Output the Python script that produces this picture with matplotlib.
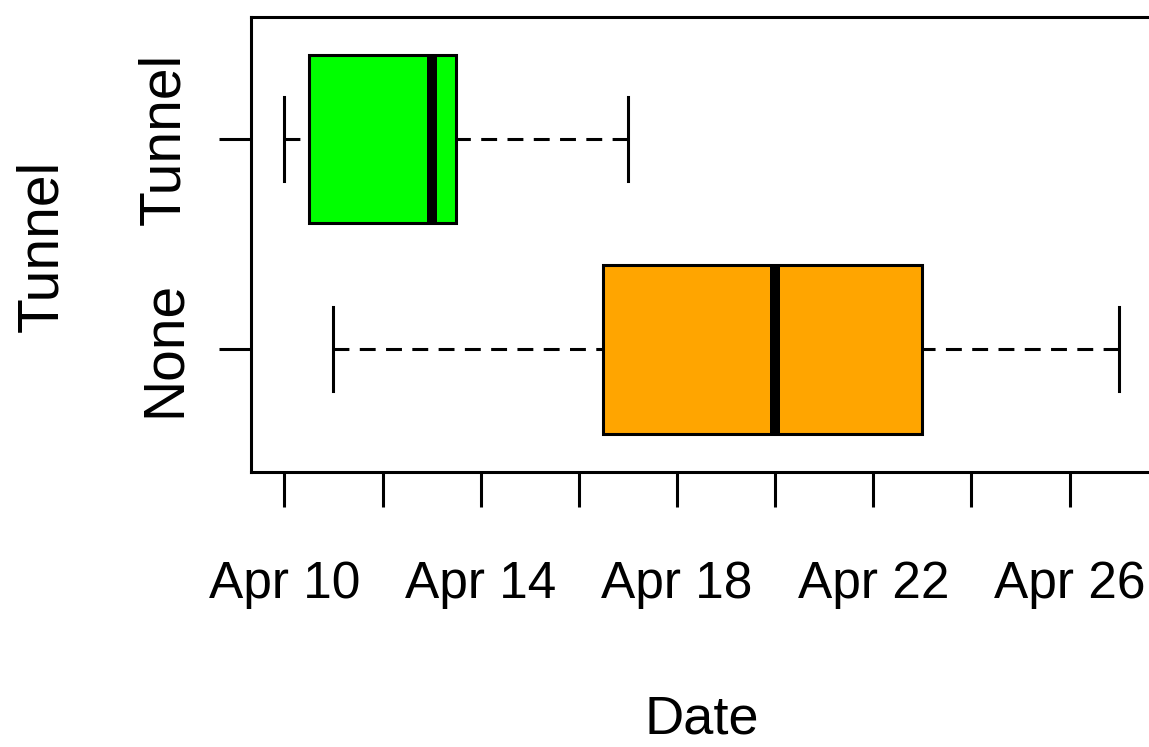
import numpy as np
import matplotlib
matplotlib.use('Agg')
import matplotlib.pyplot as plt
import matplotlib.dates as mdates

plt.rcParams['font.family'] = ['Liberation Sans', 'DejaVu Sans']

# box summaries (bottom group first)
groups = ['None', 'Tunnel']
colors = ['#FFA500', '#00FF00']
whislo = ['2021-04-11', '2021-04-10']
q1 = ['2021-04-16 12:00', '2021-04-10 12:00']
med = ['2021-04-20', '2021-04-13']
q3 = ['2021-04-23', '2021-04-13 12:00']
whishi = ['2021-04-27', '2021-04-17']

tick_dates = ['2021-04-10', '2021-04-12', '2021-04-14', '2021-04-16', '2021-04-18',
              '2021-04-20', '2021-04-22', '2021-04-24', '2021-04-26']
tick_labels = ['Apr 10', '', 'Apr 14', '', 'Apr 18', '', 'Apr 22', '', 'Apr 26']

d = mdates.datestr2num
stats = []
for i, g in enumerate(groups):
    stats.append(dict(label=g, whislo=d(whislo[i]), q1=d(q1[i]), med=d(med[i]),
                      q3=d(q3[i]), whishi=d(whishi[i]), fliers=[]))

W, H = 1149, 747
fig = plt.figure(figsize=(W / 100, H / 100), dpi=100)
ax = fig.add_axes([251 / W, 1 - 471.5 / H, 901 / W, 454.8 / H])

lw = 2.2
bp = ax.bxp(stats, positions=[1, 2], widths=0.8, capwidths=0.4,
            orientation='horizontal', patch_artist=True,
            boxprops=dict(linewidth=lw, edgecolor='black'),
            medianprops=dict(color='black', linewidth=7.2, solid_capstyle='butt'),
            whiskerprops=dict(color='black', linewidth=lw, linestyle=(0, (5.2, 3.4))),
            capprops=dict(color='black', linewidth=lw))
for box, c in zip(bp['boxes'], colors):
    box.set_facecolor(c)
# R draws whiskers starting from the staple
for w in bp['whiskers']:
    w.set_xdata(np.asarray(w.get_xdata())[::-1])
    w.set_ydata(np.asarray(w.get_ydata())[::-1])

lo = d(whislo).min()
hi = d(whishi).max()
pad = 0.04 * (hi - lo)
ax.set_xlim(lo - pad, hi + pad)
ax.set_ylim(0.42, 2.58)

ax.set_xticks(d(tick_dates))
ax.set_xticklabels(tick_labels)
ax.set_yticks([1, 2])
ax.set_yticklabels(groups, rotation=90, va='center')

ax.tick_params(axis='x', length=25.5, width=lw, pad=38.5, labelsize=37)
ax.tick_params(axis='y', length=22.7, width=lw, pad=20, labelsize=41)
for s in ax.spines.values():
    s.set_linewidth(lw)

fig.text(701.5 / W, 1 - 734 / H, 'Date', ha='center', va='baseline', fontsize=39)
fig.text(57 / W, 1 - 246 / H, 'Tunnel', rotation=90, rotation_mode='anchor',
         ha='center', va='baseline', fontsize=41)

fig.savefig('out.png', dpi=100)
